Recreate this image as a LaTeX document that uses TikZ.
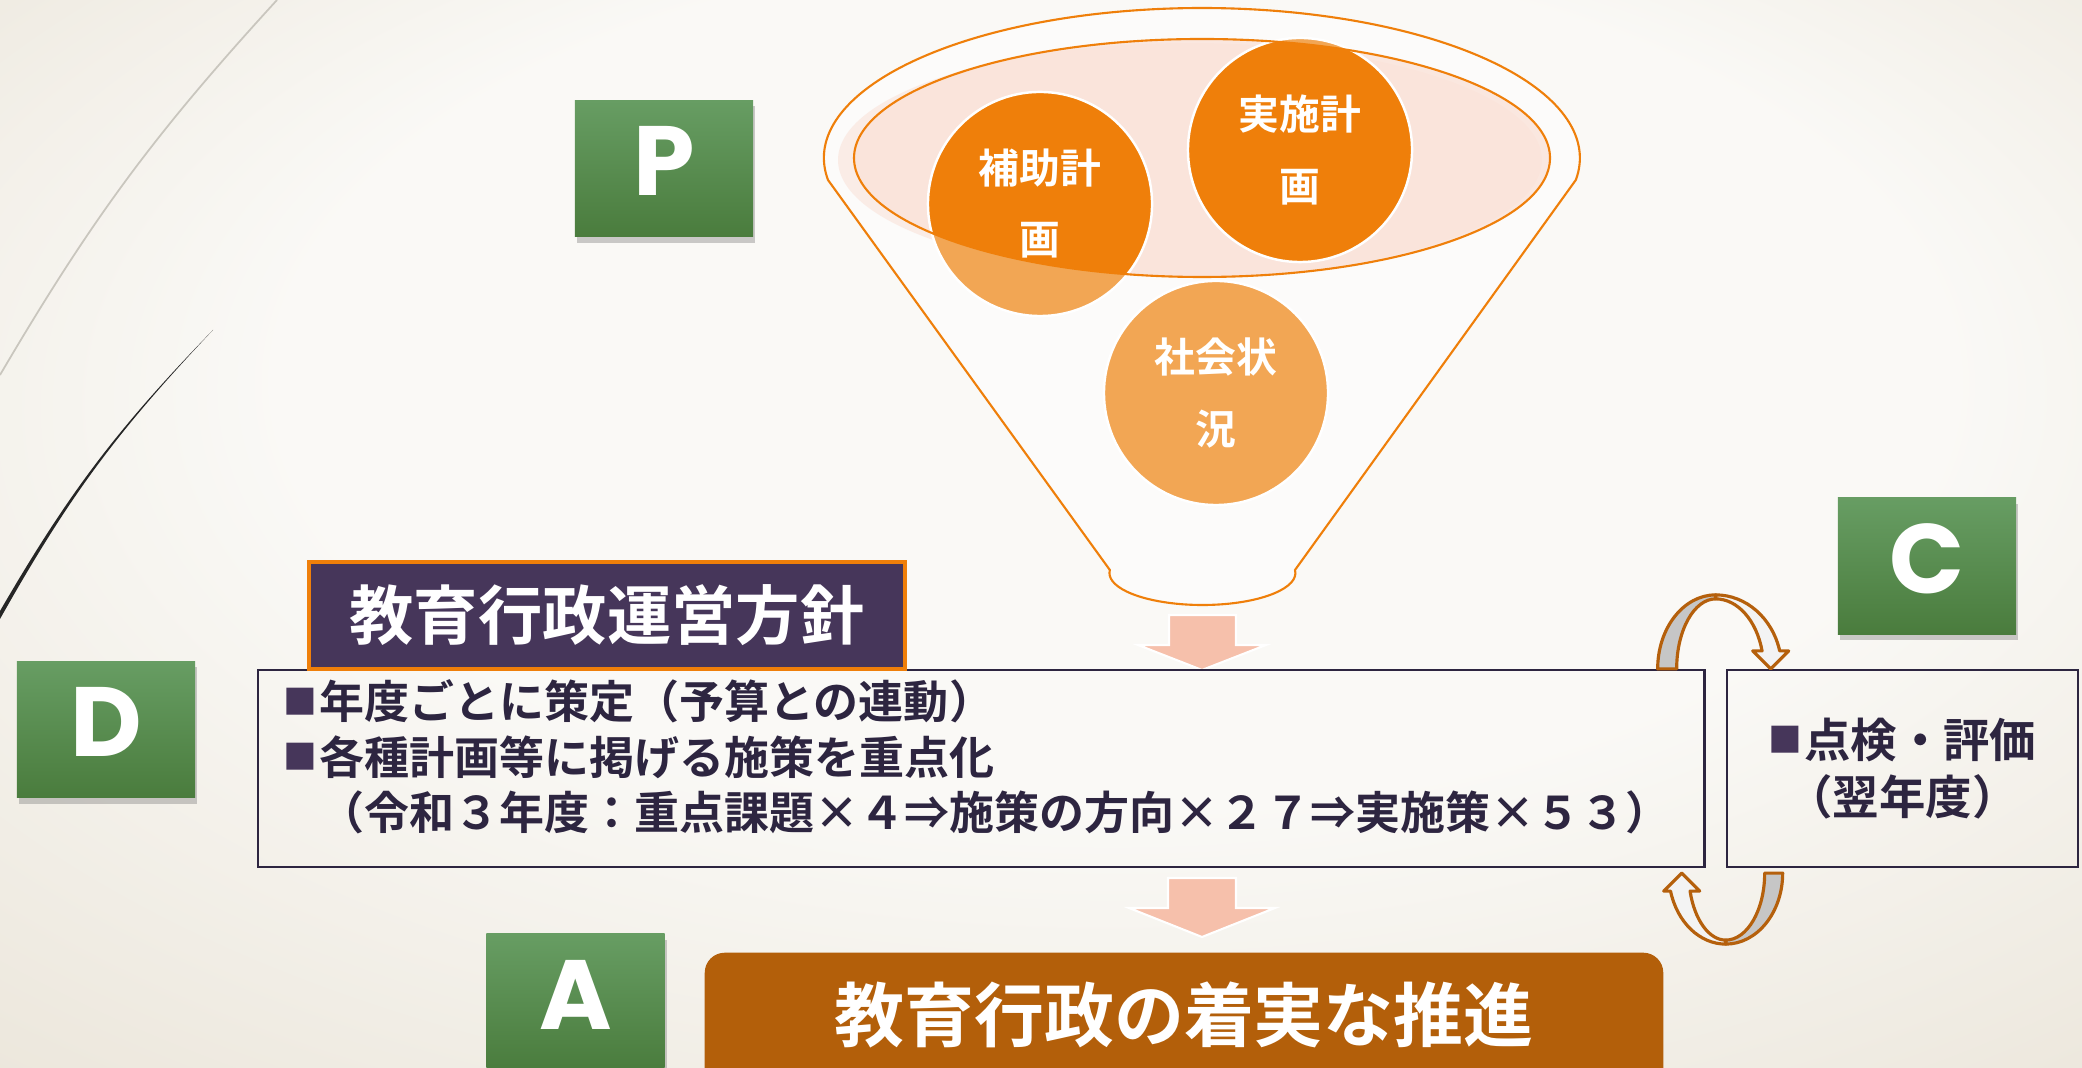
\documentclass[tikz,border=0pt]{standalone}
\usepackage{fontspec}
\newfontfamily\jp{Noto Sans CJK JP}[BoldFont={Noto Sans CJK JP Bold}]
\newfontfamily\lat{Poppins}
\usetikzlibrary{positioning,shadows,calc}

\definecolor{bglight}{HTML}{FAF9F6}
\definecolor{bgdark}{HTML}{E3DBCB}
\definecolor{grtop}{HTML}{679D63}
\definecolor{grbot}{HTML}{4A7C3D}
\definecolor{orgdark}{HTML}{EF7F0A}
\definecolor{orglight}{HTML}{F2A654}
\definecolor{pinkfill}{HTML}{FAE3D9}
\definecolor{arrowpink}{HTML}{F6C0AB}
\definecolor{plum}{HTML}{46365A}
\definecolor{ink}{HTML}{2D2540}
\definecolor{rust}{HTML}{B35F0A}
\definecolor{ribbon}{HTML}{B5600C}
\definecolor{ribbongray}{HTML}{C6C6C6}
\definecolor{ribbonwhite}{HTML}{F3F3F3}
\definecolor{wisp}{HTML}{C9C6BE}

\pgfdeclareradialshading{bgglow}{\pgfpoint{3bp}{12bp}}{color(0bp)=(bglight); color(20bp)=(bglight); color(50bp)=(bgdark)}

\newcommand{\bulletsq}{\raisebox{1.4pt}{\textcolor{plum}{\fontsize{9.6}{9.6}\selectfont ■}}\hspace{0.5pt}}

\begin{document}
\begin{tikzpicture}[x=0.01cm,y=0.01cm,
  letter box/.style={rectangle,minimum width=1.78cm,minimum height=1.36cm,top color=grtop,bottom color=grbot,
    text=white,font=\lat\bfseries\fontsize{28}{28}\selectfont,text height=0.7cm,text depth=0.16cm,
    drop shadow={opacity=0.4,shadow xshift=0.02cm,shadow yshift=-0.06cm}},
  ball/.style={circle,minimum size=2.24cm,inner sep=0,draw=white,line width=0.7pt,text=white,align=center,
    font=\jp\bfseries\fontsize{11.6}{20.2}\selectfont},
  head box/.style={rectangle,minimum width=5.96cm,minimum height=1.07cm,fill=plum,draw=orgdark,line width=1.1pt,
    text=white,font=\jp\bfseries\fontsize{18.3}{20}\selectfont},
  plan box/.style={rectangle,draw=ink,line width=0.6pt,inner sep=0},
  line text/.style={anchor=base west,inner sep=0,text=ink,font=\jp\bfseries\fontsize{12.8}{15}\selectfont},
  goal box/.style={rectangle,rounded corners=0.2cm,fill=rust,minimum width=9.58cm,minimum height=1.6cm},
  ribbon back/.style={draw=ribbon,line width=0.9pt,fill=ribbongray,line join=round},
  ribbon front/.style={draw=ribbon,line width=0.9pt,fill=ribbonwhite,line join=round},
  pink arrow/.style={fill=arrowpink,draw=white,line width=0.6pt}]

  \useasboundingbox (0,0) rectangle (2082,-1068);
  \shade[shading=bgglow] (0,0) rectangle (2082,-1068);

  % wisps
  \draw[wisp,line width=0.5pt] (277,0) to[bend right=6] (0,-375);
  \fill[black!85] (213,-330) to[bend right=7] (0,-619) -- (0,-611) to[bend left=7] (213,-330) -- cycle;

  % funnel
  \coordinate (fc) at (1202,-158);
  \coordinate (hc) at (1040,-204);
  \coordinate (jc) at (1300,-150);
  \coordinate (sc) at (1216,-393);
  \filldraw[draw=orgdark,line width=0.6pt,fill=white,fill opacity=0.45]
    (828,-180) arc[start angle=188.43,end angle=-8.43,x radius=378,y radius=150]
    -- (1295,-570) arc[start angle=5.4,end angle=-185.4,x radius=93,y radius=32] -- cycle;
  \fill[pinkfill,opacity=0.6] (1190,-160) ellipse[x radius=352,y radius=117];
  \fill[pinkfill,opacity=0.8] (fc) ellipse[x radius=348,y radius=119];
  \fill[orglight] (hc) circle[radius=112] (jc) circle[radius=112] (sc) circle[radius=112];
  \begin{scope}
    \clip (fc) ellipse[x radius=348,y radius=119];
    \fill[orgdark] (hc) circle[radius=112] (jc) circle[radius=112];
  \end{scope}
  \node[ball] (hojo) at (hc) {補助計\\画};
  \node[ball] (jisshi) at (jc) {実施計\\画};
  \node[ball] (shakai) at (sc) {社会状\\況};
  \draw[orgdark,line width=0.6pt] (fc) ellipse[x radius=348,y radius=119];

  % pink arrows
  \filldraw[pink arrow] (1169,-615) -- (1236,-615) -- (1236,-645) -- (1266,-645) -- (1202,-670)
    -- (1138,-645) -- (1169,-645) -- cycle;
  \filldraw[pink arrow] (1168,-878) -- (1236,-878) -- (1236,-908) -- (1275,-908) -- (1202,-937)
    -- (1129,-908) -- (1168,-908) -- cycle;

  % boxes
  \node[plan box,minimum width=14.46cm,minimum height=1.97cm] (plan) at (981,-768.5) {};
  \node[plan box,minimum width=3.51cm,minimum height=1.97cm,text=ink,align=center,
    font=\jp\bfseries\fontsize{13.2}{16.2}\selectfont] (check) at (1902.5,-768.5) {\bulletsq 点検・評価\\（翌年度）};
  \node[head box] (head) at (607,-615.5) {教育行政運営方針};
  \node[line text] (l1) at (283,-719) {\bulletsq 年度ごとに策定（予算との連動）};
  \node[line text,below=0.55cm of l1.base west,anchor=base west] (l2) {\bulletsq 各種計画等に掲げる施策を重点化};
  \node[line text,below=0.55cm of l2.base west,anchor=base west] (l3) {\hspace{0.36cm}（令和３年度：重点課題×４⇒施策の方向×２７⇒実施策×５３）};

  % ribbons
  \coordinate (tc) at ($(plan.north east)!0.5!(check.north west)$);
  \coordinate (bc) at ($(plan.south east)!0.5!(check.south west)+(10,-5)$);
  \filldraw[ribbon back] ($(tc)+(-58,0)$) arc[start angle=180,end angle=90,x radius=58,y radius=74]
    -- ($(tc)+(0,70)$) arc[start angle=90,end angle=180,x radius=39,y radius=70] -- cycle;
  \filldraw[ribbon front] ($(tc)+(0,74)$) arc[start angle=90,end angle=14.08,x radius=66,y radius=74]
    -- ($(tc)+(73,18)$) -- ($(tc)+(55,0)$) -- ($(tc)+(37,18)$) -- ($(tc)+(46.4,18)$)
    arc[start angle=14.9,end angle=90,x radius=48,y radius=70] -- cycle;
  \filldraw[ribbon back] ($(bc)+(57,0)$) arc[start angle=0,end angle=-90,x radius=57,y radius=71]
    -- ($(bc)+(0,-67)$) arc[start angle=-90,end angle=0,x radius=39,y radius=67] -- cycle;
  \filldraw[ribbon front] ($(bc)+(0,-71)$) arc[start angle=-90,end angle=-165.31,x radius=57,y radius=71]
    -- ($(bc)+(-62,-18)$) -- ($(bc)+(-44,0)$) -- ($(bc)+(-26,-18)$) -- ($(bc)+(-35.6,-18)$)
    arc[start angle=-164.41,end angle=-90,x radius=37,y radius=67] -- cycle;

  % letters
  \node[letter box] (P) at (664,-168.5) {P};
  \node[letter box] (C) at (1927,-566) {C};
  \node[letter box] (D) at (106,-729.5) {D};
  \node[letter box] (A) at (575.5,-1002) {A};

  % goal
  \node[goal box,anchor=north] (goal) at (1184,-952) {};
  \node[text=white,font=\jp\bfseries\fontsize{19.9}{22}\selectfont,inner sep=0] (goaltext) at (1184,-1015) {教育行政の着実な推進};

\end{tikzpicture}
\end{document}
